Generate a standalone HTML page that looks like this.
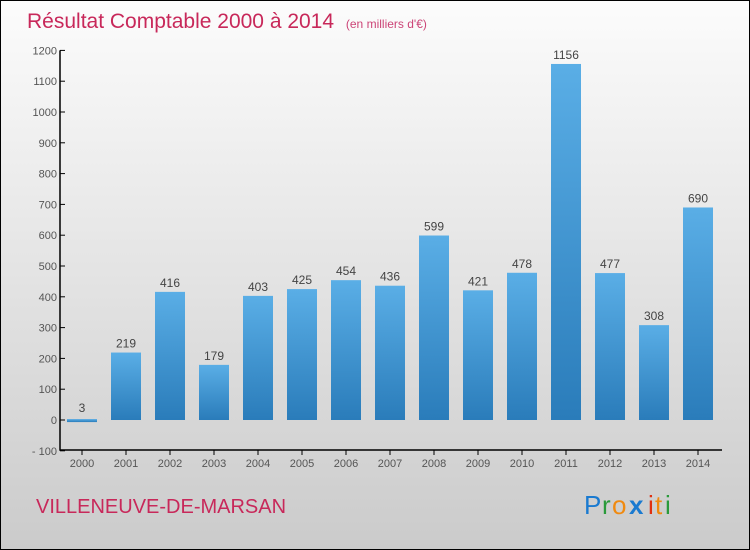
<!DOCTYPE html>
<html><head><meta charset="utf-8"><style>
body{margin:0;width:750px;height:550px;overflow:hidden}
#wrap{position:absolute;left:0;top:0;width:748px;height:548px;border:1px solid #000;background:linear-gradient(#fcfcfc,#cbcbcb)}
svg{position:absolute;left:0;top:0}
text{font-family:"Liberation Sans",sans-serif}
</style></head><body>
<div id="wrap"></div>
<svg id="c" width="750" height="550">
<defs><linearGradient id="g" x1="0" y1="0" x2="0" y2="1"><stop offset="0" stop-color="#5aaee6"/><stop offset="1" stop-color="#2a7cba"/></linearGradient></defs>
<text x="27" y="28" font-size="21" fill="#c8285a">Résultat Comptable 2000 à 2014 <tspan font-size="12" dx="6" fill="#cc4477">(en milliers d'€)</tspan></text>
<text x="36" y="513" font-size="20" fill="#c8285a">VILLENEUVE-DE-MARSAN</text>
<g font-size="26" font-family="Liberation Sans">
<text x="584" y="514" fill="#1a7ad0">P</text><text x="602" y="514" fill="#2a9a3a">r</text><text x="612" y="514" fill="#f08a10">o</text><text x="629" y="514" fill="#1a7ad0" font-weight="bold">x</text><text x="648" y="514" fill="#e03010">i</text><text x="655" y="514" fill="#f08a10">t</text><text x="665" y="514" fill="#2a9a3a">i</text></g>
</svg>
<script>
const years=["2000","2001","2002","2003","2004","2005","2006","2007","2008","2009","2010","2011","2012","2013","2014"];
const values=[3,219,416,179,403,425,454,436,599,421,478,1156,477,308,690];
const ticks=[-100,0,100,200,300,400,500,600,700,800,900,1000,1100,1200];
const svg=document.getElementById('c');const NS='http://www.w3.org/2000/svg';
const y=v=>420-v*0.308;const x=i=>82+i*44;
function mk(t,a,p){const e=document.createElementNS(NS,t);for(const k in a)e.setAttribute(k,a[k]);(p||svg).appendChild(e);return e;}
const ax=mk('path',{d:`M60 ${y(1200)} V450 H722`,stroke:'#000','stroke-width':1.5,fill:'none'});


ticks.forEach(t=>{mk('line',{x1:60,x2:65,y1:y(t),y2:y(t),stroke:'#000'});
const l=mk('text',{x:57,y:y(t)+4,'font-size':11,'text-anchor':'end',fill:'#555'});l.textContent=t==-100?'- 100':t;

});
years.forEach((yr,i)=>{mk('line',{x1:x(i),x2:x(i),y1:450,y2:455,stroke:'#000'});
const l=mk('text',{x:x(i),y:467,'font-size':11,'text-anchor':'middle',fill:'#555'});l.textContent=yr;


const v=values[i];const top=y(Math.max(v,0)),h=Math.max(Math.abs(y(v)-y(0)),3);
const r=mk('rect',{x:x(i)-15,y:v<3?y(0)-3:top,width:30,height:h,fill:'url(#g)'});


const vl=mk('text',{x:x(i),y:Math.min(top,y(0)-3)-5,'font-size':12,'text-anchor':'middle',fill:'#444'});vl.textContent=v;

});
</script>
</body></html>
